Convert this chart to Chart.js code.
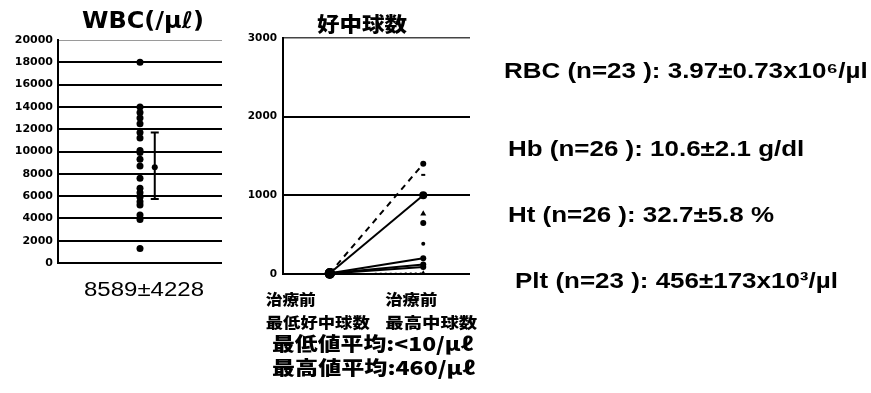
<!DOCTYPE html>
<html>
<head>
<meta charset="utf-8">
<script src="https://cdn.jsdelivr.net/npm/chart.js@4.4.1/dist/chart.umd.min.js"></script>
<style>
  html, body { margin: 0; padding: 0; background: #fff; }
  #wrap { position: relative; width: 871px; height: 393px; overflow: hidden; background: #fff; }
  #wrap canvas { position: absolute; left: 0; top: 0; }
</style>
</head>
<body>
<div id="wrap">
  <canvas id="wbc" width="871" height="393"></canvas>
  <canvas id="neut" width="871" height="393"></canvas>
</div>
<script>
// ---- WBC panel data ----
const wbcTicks = [0, 2000, 4000, 6000, 8000, 10000, 12000, 14000, 16000, 18000, 20000];
const wbcValues = [18000, 14000, 13500, 13000, 12500, 11700, 11200, 10100, 9900, 9300,
                   8700, 7600, 6700, 6300, 5900, 5500, 5200, 4300, 3900, 1300];
const wbcMean = 8589;
const wbcSD = 4228;
const wbcBarRange = [5750, 11700];

// ---- neutrophil panel data ----
const neutTicks = [0, 1000, 2000, 3000];
const neutCategories = [['治療前', '最低好中球数'], ['治療前', '最高中球数']];
const neutLow = [10, 10, 10, 10, 5, 0];
const neutHigh = [1400, 1000, 200, 120, 90, 10];
const neutHighOnly = [1260, 766, 648, 385];
const neutAverages = ['最低値平均:<10/μℓ', '最高値平均:460/μℓ'];

// ---- lab summary ----
const labNames = ['RBC', 'Hb', 'Ht', 'Plt'];
const labN = [23, 26, 26, 23];
const labMean = ['3.97', '10.6', '32.7', '456'];
const labSD = ['0.73', '2.1', '5.8', '173'];
const labUnit = ['x10⁶/µl', ' g/dl', ' %', 'x10³/µl'];

const LATIN = '"DejaVu Sans", "Liberation Sans", sans-serif';
const ARIAL = '"Liberation Sans", Arial, sans-serif';
const CJK = '"Noto Sans CJK JP", "Noto Sans CJK SC", sans-serif';

// draw text fitted horizontally into a given width
function drawFit(ctx, text, font, left, width, y, baseline) {
  ctx.save();
  ctx.font = font;
  const w = ctx.measureText(text).width;
  drawScaled(ctx, text, font, left, y, width / w, baseline);
  ctx.restore();
}

// draw text with a fixed horizontal stretch
function drawScaled(ctx, text, font, left, y, sx, baseline) {
  ctx.save();
  ctx.font = font;
  ctx.textAlign = 'left';
  ctx.textBaseline = baseline || 'alphabetic';
  ctx.fillStyle = '#000';
  ctx.translate(left, y);
  ctx.scale(sx, 1);
  ctx.fillText(text, 0, 0);
  ctx.restore();
}

const plainTick = v => String(v);

// ---------- WBC chart ----------
const wbcPlugin = {
  id: 'wbcExtras',
  afterDatasetsDraw(chart) {
    const ctx = chart.ctx, xs = chart.scales.x, ys = chart.scales.y;
    const x = xs.getPixelForValue(5.9);
    const yLo = ys.getPixelForValue(wbcBarRange[0]);
    const yHi = ys.getPixelForValue(wbcBarRange[1]);
    ctx.save();
    ctx.strokeStyle = '#000';
    ctx.lineWidth = 2;
    ctx.beginPath();
    ctx.moveTo(x, yLo); ctx.lineTo(x, yHi);
    ctx.moveTo(x - 4, yLo); ctx.lineTo(x + 4, yLo);
    ctx.moveTo(x - 4, yHi); ctx.lineTo(x + 4, yHi);
    ctx.stroke();
    ctx.restore();
  },
  afterDraw(chart) {
    const ctx = chart.ctx;
    drawFit(ctx, 'WBC(/μℓ)', 'bold 23px ' + LATIN, 82, 122, 28);
    drawFit(ctx, wbcMean + '±' + wbcSD, '20px ' + ARIAL, 84, 120, 296);
  }
};

new Chart(document.getElementById('wbc'), {
  type: 'scatter',
  data: {
    datasets: [
      {
        data: wbcValues.map(v => ({ x: 5, y: v })),
        backgroundColor: '#000', borderColor: '#000',
        pointRadius: 3.5, pointBorderWidth: 0, clip: false
      },
      {
        data: [{ x: 5.9, y: wbcMean }],
        backgroundColor: '#000', borderColor: '#000',
        pointRadius: 3, pointBorderWidth: 0, clip: false
      }
    ]
  },
  options: {
    responsive: false,
    animation: false,
    events: [],
    layout: { padding: { left: 0, top: 40, right: 649, bottom: 130 } },
    plugins: { legend: { display: false }, tooltip: { enabled: false } },
    scales: {
      x: { type: 'linear', min: 0, max: 10, display: false },
      y: {
        type: 'linear', min: 0, max: 20000,
        afterBuildTicks: s => { s.ticks = wbcTicks.map(v => ({ value: v })); },
        afterFit: s => { s.width = 58; },
        ticks: {
          color: '#000', padding: 5, autoSkip: false, callback: plainTick,
          font: { family: LATIN, weight: 'bold', size: 11 }
        },
        grid: {
          color: c => (c.tick && c.tick.value === 20000) ? '#9a9a9a' : '#000',
          lineWidth: c => (c.tick && c.tick.value === 20000) ? 1 : 2,
          drawTicks: false
        },
        border: { color: '#000', width: 2 }
      }
    }
  },
  plugins: [wbcPlugin]
});

// ---------- neutrophil chart ----------
const neutPlugin = {
  id: 'neutExtras',
  afterDraw(chart) {
    const ctx = chart.ctx, xs = chart.scales.x;
    drawFit(ctx, '好中球数', '900 20px ' + CJK, 317, 90, 24, 'middle');

    // category labels under the two columns
    const offsets = [-64, -38];
    const widths = [[50, 104], [52, 92]];
    neutCategories.forEach((lines, i) => {
      const left = xs.getPixelForValue(1 + 2 * i) + offsets[i];
      drawFit(ctx, lines[0], '900 15px ' + CJK, left, widths[i][0], 299, 'middle');
      drawFit(ctx, lines[1], '900 15px ' + CJK, left, widths[i][1], 322.5, 'middle');
    });

    drawFit(ctx, neutAverages[0], '900 19px ' + CJK, 272, 201, 344, 'middle');
    drawFit(ctx, neutAverages[1], '900 19px ' + CJK, 272, 203, 368, 'middle');

    // lab summary lines
    const lefts = [504, 508, 508, 515];
    const bases = [78, 156, 222, 288];
    labNames.forEach((name, i) => {
      const txt = name + ' (n=' + labN[i] + ' ): ' + labMean[i] + '±' + labSD[i] + labUnit[i];
      drawScaled(ctx, txt, 'bold 22px ' + ARIAL, lefts[i], bases[i], 1.18);
    });
  }
};

const lastSeries = neutLow.length - 1;
const neutDatasets = neutLow.map((lo, i) => ({
  type: 'line',
  data: [{ x: 1, y: lo }, { x: 3, y: neutHigh[i] }],
  borderColor: '#000',
  backgroundColor: '#000',
  borderWidth: i === lastSeries ? 1.5 : 2,
  borderDash: i === 0 ? [6, 5] : (i === lastSeries ? [2, 3] : []),
  pointRadius: [5, i === 1 ? 4 : 3],
  pointStyle: ['circle', i === lastSeries ? 'triangle' : 'circle'],
  pointBorderWidth: 0,
  fill: false,
  tension: 0,
  clip: false
}));
neutDatasets.push({
  type: 'scatter',
  data: neutHighOnly.map(v => ({ x: 3, y: v })),
  backgroundColor: '#000',
  borderColor: '#000',
  pointRadius: [2, 3.5, 3, 2],
  pointStyle: ['line', 'triangle', 'circle', 'circle'],
  pointBorderWidth: [2, 0, 0, 0],
  clip: false
});

new Chart(document.getElementById('neut'), {
  type: 'line',
  data: { datasets: neutDatasets },
  options: {
    responsive: false,
    animation: false,
    events: [],
    layout: { padding: { left: 235, top: 38, right: 401, bottom: 119 } },
    plugins: { legend: { display: false }, tooltip: { enabled: false } },
    scales: {
      x: { type: 'linear', min: 0, max: 4, display: false },
      y: {
        type: 'linear', min: 0, max: 3000,
        afterBuildTicks: s => { s.ticks = neutTicks.map(v => ({ value: v })); },
        afterFit: s => { s.width = 48; },
        ticks: {
          color: '#000', padding: 6, autoSkip: false, callback: plainTick,
          font: { family: LATIN, weight: 'bold', size: 10.5 }
        },
        grid: {
          color: c => (c.tick && c.tick.value === 3000) ? '#444' : '#000',
          lineWidth: c => (c.tick && c.tick.value === 3000) ? 1.5 : 2,
          drawTicks: false
        },
        border: { color: '#000', width: 2 }
      }
    }
  },
  plugins: [neutPlugin]
});
</script>
</body>
</html>
